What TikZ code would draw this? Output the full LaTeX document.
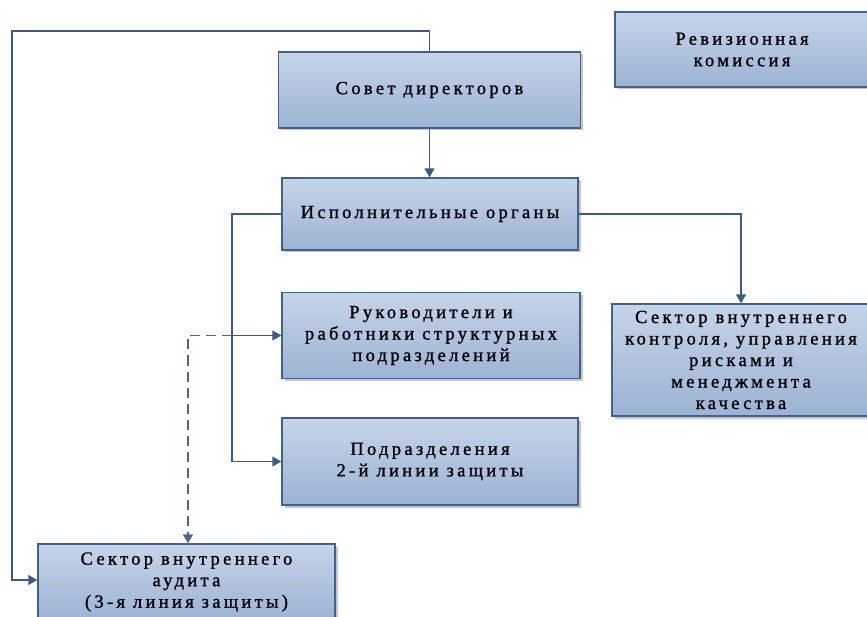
\documentclass[tikz,border=0pt]{standalone}
\usepackage{fontspec}
\setmainfont{Liberation Serif}[LetterSpace=18,FakeBold=1.2]
\usetikzlibrary{shadows,arrows.meta}
\definecolor{boxtop}{HTML}{C6D5E8}
\definecolor{boxbot}{HTML}{9CB3D3}
\definecolor{edgec}{HTML}{41618F}
\definecolor{wirec}{HTML}{3B5B8C}
\tikzset{
 box/.style={draw=edgec, line width=1.4pt, top color=boxtop, bottom color=boxbot,
   drop shadow={shadow xshift=2.5pt, shadow yshift=-2.5pt, opacity=0.45, fill=gray},
   align=center, inner sep=0pt, font=\fontsize{18.5}{21.5}\selectfont},
 wire/.style={draw=wirec, line width=1.5pt},
 arr/.style={wire, -{Triangle[length=9pt,width=10pt]}},
 darr/.style={arr, dash pattern=on 10pt off 6pt, draw=wirec!70!gray},
}
\begin{document}
\begin{tikzpicture}[x=1pt,y=1pt]
\useasboundingbox (0,0) rectangle (867,-617);
\clip (0,0) rectangle (867,-617);
\node[box, minimum width=302pt, minimum height=76pt] (sovet) at (429.5,-90) {Совет директоров};
\node[box, minimum width=254pt, minimum height=75pt] (reviz) at (742,-49.5) {Ревизионная\\комиссия};
\node[box, minimum width=296pt, minimum height=72pt] (ispoln) at (430,-214) {Исполнительные органы};
\node[box, minimum width=298pt, minimum height=86pt] (ruk) at (431,-335.5) {Руководители и\\работники структурных\\подразделений};
\node[box, minimum width=296pt, minimum height=87pt] (podr) at (430,-461.5) {Подразделения\\2-й линии защиты};
\node[box, minimum width=258pt, minimum height=112pt] (kontrol) at (741,-360) {Сектор внутреннего\\контроля, управления\\рисками и\\менеджмента\\качества};
\node[box, minimum width=297pt, minimum height=76pt] (audit) at (186.5,-582) {Сектор внутреннего\\аудита\\(3-я линия защиты)};
\coordinate (tl) at (12,-31);
\coordinate (bl) at (12,-580);
\coordinate (lv) at (232,-214);
\coordinate (dc) at (188,0);
\draw[arr] (sovet.north) |- (tl) -- (bl) -- (bl -| audit.west);
\draw[arr] (sovet.south) -- (sovet.south |- ispoln.north);
\draw[arr] (ispoln.west) -- (lv) |- (podr.west);
\draw[arr] (lv |- ruk.west) -- (ruk.west);
\draw[arr] (ispoln.east) -| (kontrol.north);
\draw[darr] (lv |- ruk.west) -- (dc |- ruk.west) -- (dc |- audit.north);
\end{tikzpicture}
\end{document}
